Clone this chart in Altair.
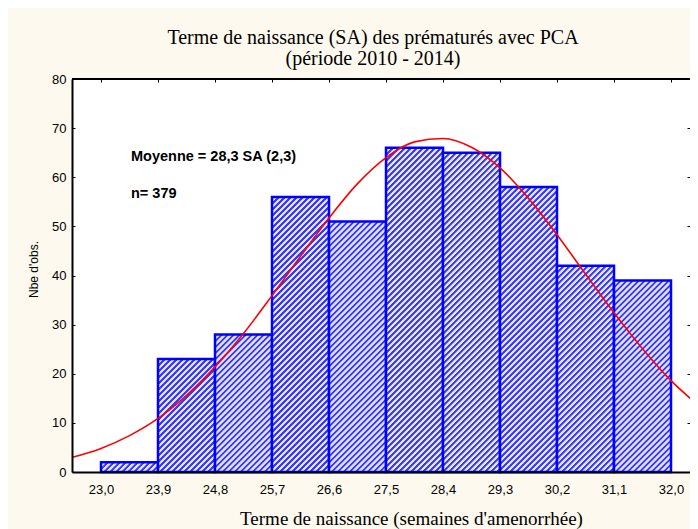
import altair as alt
import pandas as pd

# ---- data ----
bin_start = [23.0, 23.9, 24.8, 25.7, 26.6, 27.5, 28.4, 29.3, 30.2, 31.1]
bin_end = [23.9, 24.8, 25.7, 26.6, 27.5, 28.4, 29.3, 30.2, 31.1, 32.0]
counts = [2, 23, 28, 56, 51, 66, 65, 58, 42, 39]

curve_x = [22.55, 23.0, 23.45, 23.9, 24.35, 24.8, 25.25, 25.7, 26.15, 26.6, 27.05, 27.5,
           27.95, 28.4, 28.85, 29.3, 29.75, 30.2, 30.65, 31.1, 31.55, 32.0, 32.45]
curve_y = [3.0, 4.8, 7.4, 10.9, 15.6, 21.4, 28.2, 35.9, 43.9, 51.7, 58.7, 64.0,
           67.2, 67.9, 66.1, 61.9, 55.7, 48.3, 40.3, 32.4, 25.1, 18.6, 13.4]

x_ticks = [23.0, 23.9, 24.8, 25.7, 26.6, 27.5, 28.4, 29.3, 30.2, 31.1, 32.0]
y_ticks = [0, 10, 20, 30, 40, 50, 60, 70, 80]

title_lines = ["Terme de naissance (SA) des prématurés avec PCA", "(période 2010 - 2014)"]
x_title = "Terme de naissance (semaines d'amenorrhée)"
y_title = "Nbe d'obs."
annotations = ["Moyenne = 28,3 SA (2,3)", "n= 379"]

# ---- layout ----
PLOT_W, PLOT_H = 618, 393
X_DOM = [22.542, 32.3]
Y_DOM = [0, 80]
DARK, LIGHT, EDGE = "#3a3aff", "#e4e4ff", "#0000ff"

bars = pd.DataFrame({"x": bin_start, "x2": bin_end, "y": counts, "i": list(range(len(counts)))})
curve = pd.DataFrame({"x": curve_x, "y": curve_y})
top = pd.DataFrame({"y": [Y_DOM[1]]})

xaxis = alt.Axis(values=x_ticks, labelExpr="replace(format(datum.value, '.1f'), '.', ',')",
                 ticks=False, tickSize=0, domain=True, domainColor="black", domainWidth=2,
                 grid=True, gridColor="black", gridWidth=1, gridDash=[3, PLOT_H - 6],
                 labelFont="Liberation Sans", labelFontSize=13, labelColor="black",
                 labelPadding=11, labelFlush=False,
                 title=x_title, titleFont="Liberation Serif", titleFontSize=19,
                 titleFontWeight="normal", titleColor="black", titleX=339, titleY=46,
                 titleBaseline="middle", titleAlign="center", zindex=1)
yaxis = alt.Axis(values=y_ticks, ticks=False, tickSize=0, domain=True, domainColor="black",
                 domainWidth=2, grid=True, gridColor="black", gridWidth=1,
                 gridDash=[3, PLOT_W - 6],
                 labelFont="Liberation Sans", labelFontSize=13, labelColor="black", labelPadding=6,
                 title=y_title, titleFont="Liberation Sans", titleFontSize=12,
                 titleFontWeight="normal", titleColor="black", titleX=-39, titleY=190,
                 titleBaseline="middle", titleAlign="center", zindex=1)

X = alt.X("x:Q", scale=alt.Scale(domain=X_DOM, nice=False, zero=False), axis=xaxis)
Y = alt.Y("y:Q", scale=alt.Scale(domain=Y_DOM, nice=False, zero=False), axis=yaxis)


def hatch(w, h, d=6.0):
    """Diagonal '/' hatching as a striped linear gradient (bbox-relative)."""
    L = w + h
    gx = L * w / (w * w + h * h)
    gy = L * h / (w * w + h * h)
    s = d / L
    stops = []
    k = 0
    while k * s < 1:
        t0 = k * s
        for off, col in [(0.0, DARK), (0.36, DARK), (0.46, LIGHT), (0.9, LIGHT)]:
            stops.append(alt.GradientStop(offset=min(t0 + off * s, 1.0), color=col))
        k += 1
    return alt.LinearGradient(gradient="linear", stops=stops, x1=0, y1=0, x2=gx, y2=gy)


layers = []
px_per_x = PLOT_W / (X_DOM[1] - X_DOM[0])
px_per_y = PLOT_H / (Y_DOM[1] - Y_DOM[0])
for i, c in enumerate(counts):
    w = (bin_end[i] - bin_start[i]) * px_per_x
    h = max(c * px_per_y, 1)
    layers.append(
        alt.Chart(bars).transform_filter(alt.datum.i == i)
        .mark_rect(fill=hatch(w, h), stroke=EDGE, strokeWidth=2.5)
        .encode(x=X, x2="x2:Q", y=Y, y2=alt.datum(0))
    )

layers.append(
    alt.Chart(curve).mark_line(color="#ff0000", strokeWidth=1.6, interpolate="monotone", clip=True)
    .encode(x=X, y=Y)
)

# top frame line at the axis maximum
layers.append(alt.Chart(top).mark_rule(color="black", strokeWidth=2).encode(y=Y))

for txt, ypos in zip(annotations, [78, 115]):
    layers.append(
        alt.Chart(pd.DataFrame({"t": [txt]})).mark_text(
            font="Liberation Sans", fontSize=14.5, fontWeight="bold", color="black",
            align="left", baseline="middle")
        .encode(x=alt.value(59), y=alt.value(ypos), text="t:N")
    )

chart = alt.layer(*layers).properties(
    width=PLOT_W, height=PLOT_H,
    title=alt.TitleParams(text=title_lines, font="Liberation Serif", fontSize=20,
                          fontWeight="normal", color="black", anchor="middle",
                          offset=4, lineHeight=21, dx=-8),
    padding={"left": 64, "top": 71, "right": 0, "bottom": 57},
    autosize=alt.AutoSizeParams(type="none"),
).configure(background="#fdf9ee").configure_view(stroke=None, fill="white")

chart.save("out.html", embed_options={"renderer": "svg", "actions": False})
